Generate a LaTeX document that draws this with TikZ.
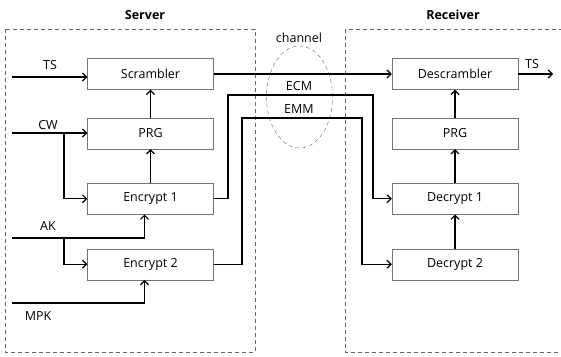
\documentclass[tikz,border=0pt]{standalone}
\usepackage{fontspec}
\setmainfont{Open Sans}
\usetikzlibrary{arrows.meta,positioning,calc}
\tikzset{
  >={Straight Barb[length=4pt,width=8pt]},
  blk/.style={draw=black!55, minimum width=126pt, minimum height=31pt, inner sep=0pt, font=\fontsize{12.5}{15}\selectfont},
  lbl/.style={font=\fontsize{12.5}{15}\selectfont, inner sep=1pt},
  ttl/.style={font=\bfseries\fontsize{12.5}{15}\selectfont},
  zone/.style={draw=black!60, dash pattern=on 4pt off 3pt},
  wire/.style={line width=1.2pt, ->},
}
\begin{document}
\begin{tikzpicture}[x=1pt,y=-1pt]
  \clip (0,0) rectangle (561,356);
  % dashed areas
  \draw[zone] (5,29) rectangle (255,352);
  \draw[zone] (345,29) rectangle (600,352);
  \draw[zone] (299.5,97) ellipse [x radius=33pt, y radius=51pt];

  \node[ttl] (srvT) at (145,15) {Server};
  \node[ttl] (rcvT) at (453,15) {Receiver};
  \node[lbl] (chT) at (299,38) {channel};

  % server side
  \node[blk] (scr) at (150.5,74) {Scrambler};
  \node[blk, below=28pt of scr] (prgS) {PRG};
  \node[blk, below=34pt of prgS] (enc1) {Encrypt 1};
  \node[blk, below=34pt of enc1] (enc2) {Encrypt 2};

  % receiver side
  \node[blk] (dscr) at (455,74) {Descrambler};
  \node[blk, below=28pt of dscr] (prgR) {PRG};
  \node[blk, below=34pt of prgR] (dec1) {Decrypt 1};
  \node[blk, below=34pt of dec1] (dec2) {Decrypt 2};

  \node[lbl] (tsL) at (50,65) {TS};
  \node[lbl] (cwL) at (48,125) {CW};
  \node[lbl] (akL) at (48,226) {AK};
  \node[lbl] (mpkL) at (38,316) {MPK};
  \node[lbl] (tsR) at (532,64) {TS};
  \node[lbl] (ecmL) at (299,86) {ECM};
  \node[lbl] (emmL) at (299,109) {EMM};

  \coordinate (tsIn) at (12,77);
  \coordinate (cwIn) at (12,133);
  \coordinate (cwBr) at (64,133);
  \coordinate (akIn) at (12,238);
  \coordinate (akBr) at (64,238);
  \coordinate (mpkIn) at (12,303);
  \coordinate (tsOut) at (553,74);
  \coordinate (ecmA) at (228,95);
  \coordinate (ecmB) at (373,95);
  \coordinate (emmA) at (242,118);
  \coordinate (emmB) at (362,118);

  \draw[wire] (tsIn) -- (tsIn -| scr.west);
  \draw[wire] (cwIn) -- (cwIn -| prgS.west);
  \draw[wire] (cwBr) |- (enc1.west);
  \draw[wire] (akIn) -| ([xshift=-6pt]enc1.south);
  \draw[wire] (akBr) |- (enc2.west);
  \draw[wire] (mpkIn) -| ([xshift=-6pt]enc2.south);
  \draw[wire] (prgS) -- (scr);
  \draw[wire] (enc1) -- (prgS);

  \draw[wire] (scr.east) -- (dscr.west);
  \draw[wire] (enc1.east) -| (ecmA) -- (ecmB) |- (dec1.west);
  \draw[wire] (enc2.east) -| (emmA) -- (emmB) |- (dec2.west);

  \draw[wire] (dscr.east) -- (tsOut);
  \draw[wire] (prgR) -- (dscr);
  \draw[wire] (dec1) -- (prgR);
  \draw[wire] (dec2) -- (dec1);
\end{tikzpicture}
\end{document}
